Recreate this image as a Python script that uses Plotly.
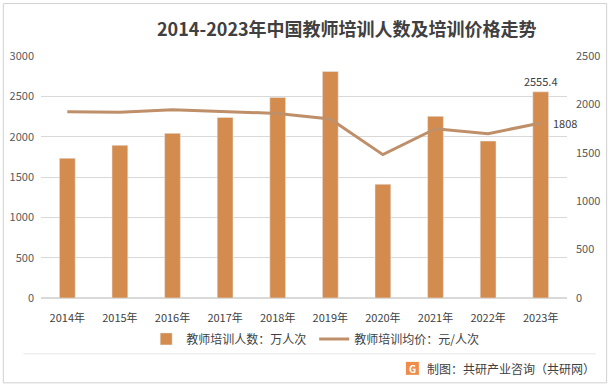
import plotly.graph_objects as go

years = ["2014年", "2015年", "2016年", "2017年", "2018年", "2019年", "2020年", "2021年", "2022年", "2023年"]
trainees = [1732, 1893, 2041, 2239, 2487, 2808, 1410, 2252, 1946, 2555.4]
avg_price = [1925, 1918, 1945, 1928, 1907, 1849, 1481, 1749, 1698, 1808]

bar_name = "教师培训人数：万人次"
line_name = "教师培训均价：元/人次"
title = "2014-2023年中国教师培训人数及培训价格走势"
source = "制图：共研产业咨询（共研网）"

FONT = "Noto Sans CJK SC, Microsoft YaHei, sans-serif"
L, R, T, B = 40.7, 46.7, 55.5, 89
W, H = 614, 387
pw = W - L - R
ph = H - T - B

def px(x):
    return (x - L) / pw

def py(y):
    return (H - B - y) / ph

bar_text = [""] * (len(trainees) - 1) + [f"{trainees[-1]}"]

fig = go.Figure()
fig.add_trace(go.Bar(
    x=years, y=trainees, name=bar_name, marker_color="#D48C4E",
    width=0.30, text=bar_text, textposition="outside", cliponaxis=False,
    constraintext="none",
    textfont=dict(size=11, color="#404040", family=FONT),
))
fig.add_trace(go.Scatter(
    x=years, y=avg_price, name=line_name, yaxis="y2", mode="lines",
    line=dict(color="#BF8F69", width=3),
))

shapes = [
    dict(type="rect", xref="paper", yref="paper", x0=px(3), x1=px(607), y0=py(383), y1=py(3),
         line=dict(color="#D0D0D0", width=1), fillcolor="rgba(0,0,0,0)", layer="above"),
    dict(type="line", xref="paper", yref="paper", x0=px(23), x1=px(596), y0=py(354), y1=py(354),
         line=dict(color="#E6E6E6", width=1)),
    dict(type="rect", xref="paper", yref="paper", x0=px(406), x1=px(419), y0=py(375), y1=py(362),
         line=dict(width=0), fillcolor="#F08C4A"),
]

annotations = [
    dict(text=f"<b>{title}</b>", xref="paper", yref="paper", x=px(347), y=py(27),
         showarrow=False, xanchor="center", yanchor="middle",
         font=dict(size=18, color="#404040", family=FONT)),
    dict(text=source, xref="paper", yref="paper", x=px(597), y=py(369),
         showarrow=False, xanchor="right", yanchor="middle",
         font=dict(size=12, color="#404040", family=FONT)),
    dict(text="<b>G</b>", xref="paper", yref="paper", x=px(412.5), y=py(368.5),
         showarrow=False, xanchor="center", yanchor="middle",
         font=dict(size=10, color="white", family=FONT)),
    dict(text=f"{avg_price[-1]}", xref="x", yref="y2", x=years[-1], y=avg_price[-1],
         showarrow=False, xanchor="left", yanchor="middle", xshift=10,
         font=dict(size=11, color="#404040", family=FONT)),
]

fig.update_layout(
    width=W, height=H,
    margin=dict(l=L, r=R, t=T, b=B, autoexpand=False),
    paper_bgcolor="white", plot_bgcolor="white",
    font=dict(family=FONT, size=11, color="#595959"),
    showlegend=True,
    legend=dict(orientation="h", x=px(146), y=py(339), xanchor="left", yanchor="middle",
                font=dict(size=12, color="#404040", family=FONT), traceorder="normal",
                itemwidth=30, entrywidth=123, entrywidthmode="pixels",
                bgcolor="rgba(0,0,0,0)"),
    xaxis=dict(range=[-0.5, len(years) - 0.5], showgrid=False, showline=False, ticks="",
               tickfont=dict(size=11, color="#404040"), ticklabelstandoff=12),
    yaxis=dict(range=[0, 3000], dtick=500, showgrid=True, gridcolor="#D9D9D9", gridwidth=1,
               zeroline=True, zerolinecolor="#D9D9D9", showline=False, ticks="",
               tickfont=dict(size=11, color="#595959"), ticklabelstandoff=6),
    yaxis2=dict(range=[0, 2500], dtick=500, overlaying="y", side="right", showgrid=False,
                zeroline=False, showline=False, ticks="",
                tickfont=dict(size=11, color="#595959"), ticklabelstandoff=8),
    shapes=shapes, annotations=annotations,
)

fig.write_html(
    "out.html",
    config={"displayModeBar": False},
    post_script="document.body.style.margin='0';document.body.style.overflow='hidden';",
)
